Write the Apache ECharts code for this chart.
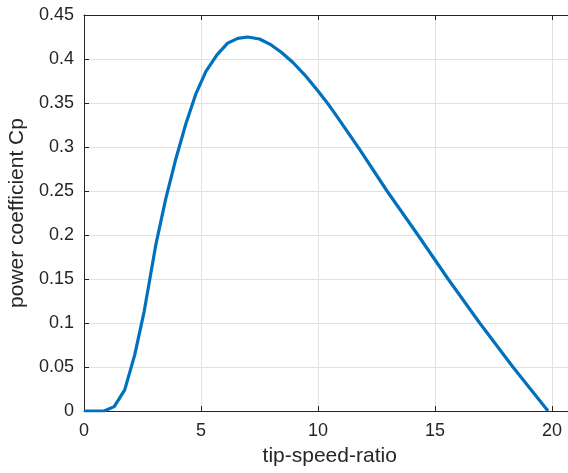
<!DOCTYPE html>
<html>
<head>
<meta charset="utf-8">
<script src="https://cdn.jsdelivr.net/npm/echarts@6/dist/echarts.min.js"></script>
<style>
html,body{margin:0;padding:0;background:#fff;}
#c{width:568px;height:473px;}
</style>
</head>
<body>
<div id="c"></div>
<script>
const tsr = [0, 0.43, 0.86, 1.29, 1.74, 2.17, 2.57, 3.07, 3.5, 3.93, 4.36, 4.79, 5.21, 5.69, 6.14, 6.57, 7.0, 7.5, 8.0, 8.43, 8.93, 9.43, 10.0, 10.4, 10.71, 11.75, 12.95, 14.27, 15.56, 16.91, 18.33, 19.83];
const cp = [0, 0, 0, 0.005, 0.024, 0.064, 0.113, 0.189, 0.242, 0.287, 0.327, 0.361, 0.386, 0.405, 0.418, 0.4235, 0.425, 0.4227, 0.416, 0.4076, 0.396, 0.382, 0.3636, 0.35, 0.3385, 0.2985, 0.25, 0.20, 0.15, 0.10, 0.05, 0];
const xTicks = [0, 5, 10, 15, 20];
const xName = 'tip-speed-ratio';
const yName = 'power coefficient Cp';

const data = tsr.map((x, i) => [x, cp[i]]);
const font = 'Liberation Sans, Arial, Helvetica, sans-serif';
const txt = '#262626';

const chart = echarts.init(document.getElementById('c'), null, {renderer: 'canvas'});
chart.setOption({
  animation: false,
  backgroundColor: '#fff',
  grid: {left: 84, top: 15, bottom: 62, right: -7.4, containLabel: false, outerBoundsMode: 'none'},
  xAxis: [{
    type: 'value', min: 0, max: 21, interval: 5,
    name: xName, nameLocation: 'middle', nameGap: 35,
    nameTextStyle: {color: txt, fontSize: 21, fontFamily: font},
    axisLine: {show: true, onZero: false, lineStyle: {color: txt, width: 1}},
    axisTick: {show: true, inside: true, length: 5, lineStyle: {color: txt}},
    axisLabel: {color: txt, fontSize: 18, fontFamily: font, margin: 11,
      formatter: v => xTicks.indexOf(v) >= 0 ? String(v) : ''},
    splitLine: {show: true, lineStyle: {color: '#e1e1e1', width: 1}}
  }, {
    type: 'value', min: 0, max: 21, interval: 5, position: 'top',
    axisLine: {show: true, onZero: false, lineStyle: {color: txt, width: 1}},
    axisTick: {show: true, inside: true, length: 5, lineStyle: {color: txt}},
    axisLabel: {show: false},
    splitLine: {show: false}
  }],
  yAxis: {
    type: 'value', min: 0, max: 0.45, interval: 0.05,
    name: yName, nameLocation: 'middle', nameGap: 50,
    nameTextStyle: {color: txt, fontSize: 21, fontFamily: font},
    axisLine: {show: true, onZero: false, lineStyle: {color: txt, width: 1}},
    axisTick: {show: true, inside: true, length: 5, lineStyle: {color: txt}},
    axisLabel: {color: txt, fontSize: 18, fontFamily: font, margin: 10},
    splitLine: {show: true, lineStyle: {color: '#e1e1e1', width: 1}}
  },
  series: [{
    type: 'line', xAxisIndex: 0, data: data, showSymbol: false, smooth: false,
    lineStyle: {color: '#0072BD', width: 3.2}, clip: true
  }]
});
</script>
</body>
</html>
